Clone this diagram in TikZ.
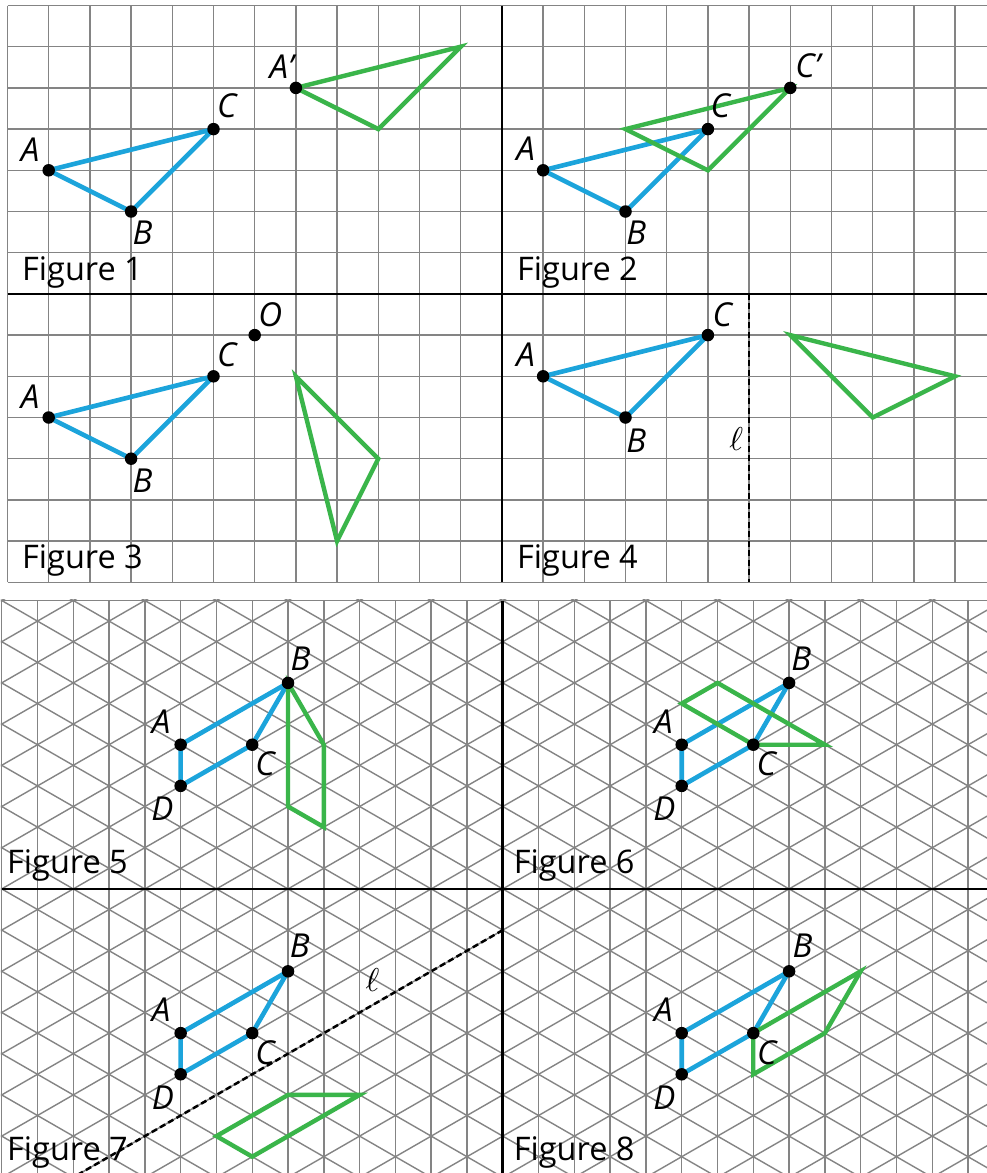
\documentclass[tikz,border=0pt]{standalone}
\usepackage{fontspec}
\setmainfont{Open Sans}
\definecolor{gridgray}{RGB}{132,132,132}
\definecolor{myblue}{RGB}{28,164,219}
\definecolor{mygreen}{RGB}{58,181,74}
\begin{document}
\begin{tikzpicture}[x=1pt,y=-1pt,
  gridline/.style={draw=gridgray, line width=1.4pt},
  thickline/.style={draw=black, line width=2.7pt},
  dashline/.style={draw=black, line width=2.5pt, dash pattern=on 6pt off 3.5pt},
  bluepoly/.style={draw=myblue, line width=4.6pt, line join=round},
  greenpoly/.style={draw=mygreen, line width=4.4pt},
  dot/.style={circle, fill=black, inner sep=0pt, minimum size=12.5pt},
  lbl/.style={font=\fontsize{33}{40}\selectfont\itshape, inner sep=0pt, anchor=center},
  figlbl/.style={font=\fontsize{32.5}{39}\selectfont, inner sep=0pt, anchor=base west},
  elllbl/.style={font=\normalsize, scale=3.3, inner sep=0pt, anchor=center}]
\useasboundingbox (0,0) rectangle (987,1173);
\fill[white] (0,0) rectangle (987,1173);

% ---------------- square grid ----------------
\begin{scope}[shift={(7.5,5.5)}, x=41.2pt, y=-41.2pt]
  \foreach \k in {0,...,23} \draw[gridline] (\k,0) -- (\k,14);
  \foreach \j in {0,...,14} \draw[gridline] (0,\j) -- (23.8,\j);
  \draw[thickline] (0,7) -- (23.8,7);
  \draw[thickline] (12,0) -- (12,14);
  \coordinate (l4top) at (18,7);
  \coordinate (l4bot) at (18,14);
  \draw[dashline] (l4top) -- (l4bot);

  % Figure 1
  \coordinate (A1) at (1,4); \coordinate (B1) at (3,5); \coordinate (C1) at (5,3);
  \coordinate (Ap1) at (7,2); \coordinate (Bp1) at (9,3); \coordinate (Cp1) at (11,1);
  % Figure 2
  \coordinate (A2) at (13,4); \coordinate (B2) at (15,5); \coordinate (C2) at (17,3);
  \coordinate (Ap2) at (15,3); \coordinate (Bp2) at (17,4); \coordinate (Cp2) at (19,2);
  % Figure 3
  \coordinate (A3) at (1,10); \coordinate (B3) at (3,11); \coordinate (C3) at (5,9);
  \coordinate (O3) at (6,8);
  \coordinate (Ap3) at (9,11); \coordinate (Bp3) at (8,13); \coordinate (Cp3) at (7,9);
  % Figure 4
  \coordinate (A4) at (13,9); \coordinate (B4) at (15,10); \coordinate (C4) at (17,8);
  \coordinate (Ap4) at (23,9); \coordinate (Bp4) at (21,10); \coordinate (Cp4) at (19,8);

  \draw[bluepoly] (A1) -- (B1) -- (C1) -- cycle;
  \draw[bluepoly] (A2) -- (B2) -- (C2) -- cycle;
  \draw[bluepoly] (A3) -- (B3) -- (C3) -- cycle;
  \draw[bluepoly] (A4) -- (B4) -- (C4) -- cycle;
  \draw[greenpoly] (Ap1) -- (Bp1) -- (Cp1) -- cycle;
  \draw[greenpoly] (Ap2) -- (Bp2) -- (Cp2) -- cycle;
  \draw[greenpoly] (Ap3) -- (Bp3) -- (Cp3) -- cycle;
  \draw[greenpoly] (Ap4) -- (Bp4) -- (Cp4) -- cycle;

  \foreach \p in {A1,B1,C1,Ap1,A2,B2,C2,Cp2,A3,B3,C3,O3,A4,B4,C4}
    \node[dot] (d\p) at (\p) {};
\end{scope}

% ---------------- isometric grid ----------------
\begin{scope}
  \clip (0.8,599.6) rectangle (987,1173);
  \begin{scope}[shift={(1.7,600.5)}, x=35.79pt, y=-20.6pt]
    \foreach \i in {0,...,28} \draw[gridline] (\i,0) -- (\i,30);
    \foreach \k in {-2,...,32} \draw[gridline] (-2,{2*\k+2}) -- (30,{2*\k-30});
    \foreach \k in {-16,...,16} \draw[gridline] (-2,{2*\k-2}) -- (30,{2*\k+30});
    \draw[gridline] (0,0) -- (28,0);
    \draw[thickline] (0,14) -- (28,14);
    \draw[thickline] (14,0) -- (14,30);
    \coordinate (l7top) at (14,16);
    \coordinate (l7bot) at (1,29);
    \draw[dashline] (l7top) -- (l7bot);

    % Figure 5
    \coordinate (A5) at (5,7); \coordinate (B5) at (8,4); \coordinate (C5) at (7,7); \coordinate (D5) at (5,9);
    \coordinate (Ap5) at (8,10); \coordinate (Cp5) at (9,7); \coordinate (Dp5) at (9,11);
    % Figure 6
    \coordinate (A6) at (19,7); \coordinate (B6) at (22,4); \coordinate (C6) at (21,7); \coordinate (D6) at (19,9);
    \coordinate (Ap6) at (23,7); \coordinate (Bp6) at (20,4); \coordinate (Dp6) at (19,5);
    % Figure 7
    \coordinate (A7) at (5,21); \coordinate (B7) at (8,18); \coordinate (C7) at (7,21); \coordinate (D7) at (5,23);
    \coordinate (Ap7) at (10,24); \coordinate (Bp7) at (7,27); \coordinate (Cp7) at (6,26); \coordinate (Dp7) at (8,24);
    % Figure 8
    \coordinate (A8) at (19,21); \coordinate (B8) at (22,18); \coordinate (C8) at (21,21); \coordinate (D8) at (19,23);
    \coordinate (Bp8) at (24,18); \coordinate (Cp8) at (23,21); \coordinate (Dp8) at (21,23);

    \draw[bluepoly] (A5) -- (B5) -- (C5) -- (D5) -- cycle;
    \draw[bluepoly] (A6) -- (B6) -- (C6) -- (D6) -- cycle;
    \draw[bluepoly] (A7) -- (B7) -- (C7) -- (D7) -- cycle;
    \draw[bluepoly] (A8) -- (B8) -- (C8) -- (D8) -- cycle;
    \draw[greenpoly] (B5) -- (Ap5) -- (Dp5) -- (Cp5) -- cycle;
    \draw[greenpoly] (Dp6) -- (Bp6) -- (Ap6) -- (C6) -- cycle;
    \draw[greenpoly] (Dp7) -- (Ap7) -- (Bp7) -- (Cp7) -- cycle;
    \draw[greenpoly] (C8) -- (Bp8) -- (Cp8) -- (Dp8) -- cycle;

    \foreach \p in {A5,B5,C5,D5,A6,B6,C6,D6,A7,B7,C7,D7,A8,B8,C8,D8}
      \node[dot] (d\p) at (\p) {};
  \end{scope}
\end{scope}

% ---------------- labels ----------------
% Figure 1
\node[lbl] (tA1) at (30,150) {A};
\node[lbl] (tB1) at (142.5,233) {B};
\node[lbl] (tC1) at (226.7,105.3) {C};
\node[lbl] (tAp1) at (281.7,66.7) {A{\char"27}};
% Figure 2
\node[lbl] (tA2) at (525.5,148.3) {A};
\node[lbl] (tB2) at (636.3,233) {B};
\node[lbl] (tC2) at (720.3,105.3) {C};
\node[lbl] (tCp2) at (807.8,65.3) {C{\char"27}};
% Figure 3
\node[lbl] (tO3) at (270.2,314.2) {O};
\node[lbl] (tC3) at (226.7,355) {C};
\node[lbl] (tA3) at (30,396.7) {A};
\node[lbl] (tB3) at (142.5,480.7) {B};
% Figure 4
\node[lbl] (tC4) at (722.2,314.7) {C};
\node[lbl] (tA4) at (525.5,355) {A};
\node[lbl] (tB4) at (636.3,440.8) {B};
\node[elllbl] (tl4) at (736.3,438.7) {$\ell$};
% Figure 5
\node[lbl] (tB5) at (300.5,658.7) {B};
\node[lbl] (tA5) at (161.2,721.7) {A};
\node[lbl] (tC5) at (265,764.2) {C};
\node[lbl] (tD5) at (162.5,809.2) {D};
% Figure 6
\node[lbl] (tB6) at (801.2,658.7) {B};
\node[lbl] (tA6) at (663.3,721.7) {A};
\node[lbl] (tC6) at (766.2,764.2) {C};
\node[lbl] (tD6) at (664.5,809.2) {D};
% Figure 7
\node[lbl] (tB7) at (299.7,945.3) {B};
\node[lbl] (tA7) at (161.2,1010) {A};
\node[lbl] (tC7) at (265,1052.5) {C};
\node[lbl] (tD7) at (163,1097.5) {D};
\node[elllbl] (tl7) at (372.5,980) {$\ell$};
% Figure 8
\node[lbl] (tB8) at (802.5,945.3) {B};
\node[lbl] (tA8) at (663.3,1010) {A};
\node[lbl] (tC8) at (766.7,1052.5) {C};
\node[lbl] (tD8) at (664.5,1097.5) {D};

% figure captions
\node[figlbl] (f1) at (22,280) {Figure 1};
\node[figlbl] (f2) at (517,280) {Figure 2};
\node[figlbl] (f3) at (22,568.3) {Figure 3};
\node[figlbl] (f4) at (517,568.3) {Figure 4};
\node[figlbl] (f5) at (7,873.3) {Figure 5};
\node[figlbl] (f6) at (513.7,873.3) {Figure 6};
\node[figlbl] (f7) at (7,1160) {Figure 7};
\node[figlbl] (f8) at (513.7,1160) {Figure 8};
\end{tikzpicture}
\end{document}
